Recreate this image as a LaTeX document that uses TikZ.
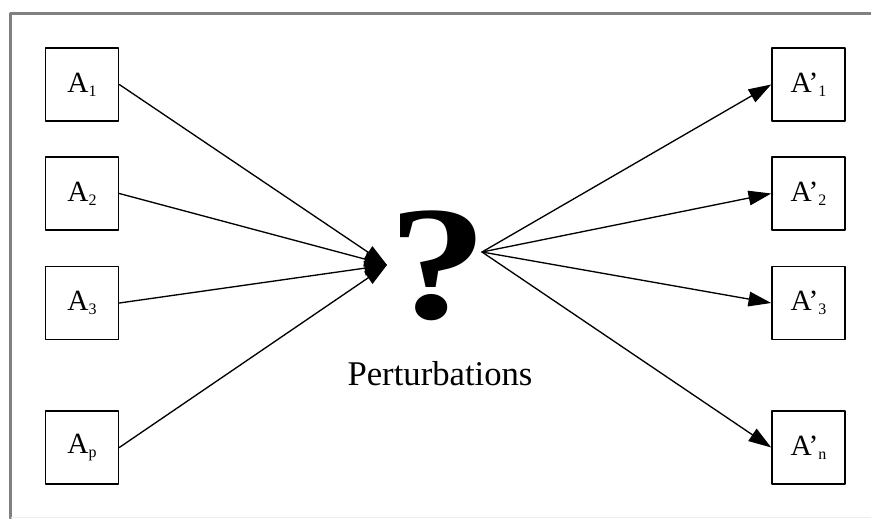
\documentclass[tikz,border=0pt]{standalone}
\usepackage{fontspec}
\setmainfont{Liberation Serif}
\usetikzlibrary{arrows.meta}
\newcommand{\lowsub}[1]{\raisebox{-3pt}{\fontsize{12}{12}\selectfont #1}}
\tikzset{
	varbox/.style={draw, line width=1.2pt, minimum size=54.75pt, inner sep=0pt, font=\fontsize{22}{22}\selectfont},
	flow/.style={-{Triangle[length=17pt,width=11pt]}, line width=1pt},
	frameline/.style={draw=black!50, line width=2.25pt}
}
\begin{document}
\begin{tikzpicture}[x=0.75pt,y=-0.75pt,line cap=round,line join=round]
		\useasboundingbox (0,0) rectangle (871,518);
		\draw [frameline] (10,518) -- (10,13) -- (871,13);
		\draw [black!7, line width=0.75pt] (11.5,517) -- (871,517);
		\node [varbox] (a1) at (82,84.5) {A\lowsub{1}};
		\node [varbox] (a2) at (82,193.5) {A\lowsub{2}};
		\node [varbox] (a3) at (82,303) {A\lowsub{3}};
		\node [varbox] (ap) at (82,447.5) {A\lowsub{p}};
		\node [varbox] (b1) at (808.5,84.5) {A’\lowsub{1}};
		\node [varbox] (b2) at (808.5,193.5) {A’\lowsub{2}};
		\node [varbox] (b3) at (808.5,303) {A’\lowsub{3}};
		\node [varbox] (bn) at (808.5,447.5) {A’\lowsub{n}};
		\node [inner sep=0pt, font=\fontsize{122}{122}\selectfont\bfseries] (quest) at (438,266) {\scalebox{1.22}[1]{?}};
		\node [inner sep=0pt, font=\fontsize{26}{26}\selectfont] (pert) at (440,373.5) {Perturbations};
		\coordinate (in) at (387,265);
		\coordinate (out) at (482,252);
		\draw [flow] (a1.east) -- (in);
		\draw [flow] (a2.east) -- (in);
		\draw [flow] (a3.east) -- (in);
		\draw [flow] (ap.east) -- (in);
		\draw [flow] (out) -- (b1.west);
		\draw [flow] (out) -- (b2.west);
		\draw [flow] (out) -- (b3.west);
		\draw [flow] (out) -- (bn.west);
\end{tikzpicture}
\end{document}
